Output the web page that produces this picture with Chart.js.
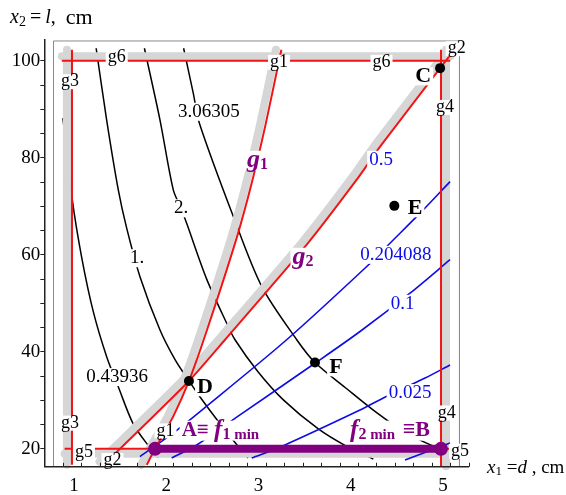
<!DOCTYPE html>
<html>
<head>
<meta charset="utf-8">
<title>f1 / f2 — d, l</title>
<script src="https://cdn.jsdelivr.net/npm/chart.js@4.4.1/dist/chart.umd.min.js"></script>
<style>
  body { margin: 0; background: #fff; }
  canvas { display: block; }
</style>
</head>
<body>
<canvas id="designChart" width="566" height="495"></canvas>
<script>
// 설계변수: x1 = d (cm), x2 = l (cm)

// f1 등고선 (검정)
const f1_043936_d = [0.902, 1.0, 1.105, 1.231, 1.376, 1.502, 1.665, 1.846, 1.932];
const f1_043936_l = [88.2, 71.8, 59.5, 48.3, 39.0, 32.8, 25.1, 20.2, 18.2];
const f1_1_d = [1.262, 1.376, 1.502, 1.593, 1.737, 1.954, 2.117, 2.268, 2.388, 2.572, 2.789, 2.908];
const f1_1_l = [102.6, 87.8, 73.4, 65.5, 55.5, 44.5, 38.4, 34.0, 30.7, 26.0, 20.8, 18.1];
const f1_2_d = [1.785, 1.954, 2.098, 2.182, 2.243, 2.460, 2.677, 2.767, 3.016, 3.291, 3.670, 3.978, 4.266];
const f1_2_l = [102.6, 87.8, 73.4, 69.6, 66.5, 55.0, 45.9, 42.5, 35.9, 30.1, 24.1, 20.5, 17.9];
const f1_306305_d = [2.21, 2.315, 2.380, 2.749, 3.056, 3.436, 3.634, 3.978, 4.306, 4.61, 4.935, 5.1];
const f1_306305_l = [102.6, 93.3, 87.2, 67.9, 53.5, 42.5, 37.8, 32.4, 27.4, 23.4, 20.4, 19.3];

// f2 등고선 (파랑)
const f2_0204088_d = [5.098, 4.783, 4.447, 4.195, 3.327, 2.388, 2.098, 1.737];
const f2_0204088_l = [75.1, 68.8, 62.4, 57.6, 42.5, 27.7, 23.3, 18.4];
const f2_01_d = [5.098, 4.664, 4.122, 3.645, 2.821, 2.352, 2.081];
const f2_01_l = [59.0, 52.1, 44.2, 37.8, 27.0, 20.8, 18.1];
const f2_0025_d = [5.098, 4.827, 4.375, 4.122, 3.273, 2.948];
const f2_0025_l = [37.3, 34.6, 30.5, 28.0, 20.5, 18.1];
const f2_low_d = [4.61, 5.098];
const f2_low_l = [17.7, 21.2];

// 제약조건 g1 ~ g6 (빨강)
const g1_d = [1.81, 1.90, 2.095, 2.268, 2.463, 2.785, 2.951, 3.10, 3.244, 3.27];
const g1_l = [16.7, 20, 26.6, 34.0, 44.5, 63.5, 75.0, 87.0, 100, 102.3];
const g2_d = [1.34, 1.52, 2.268, 2.659, 3.544, 4.086, 4.339, 4.99, 5.1];
const g2_l = [16.7, 20, 34.0, 42.5, 62.1, 75.5, 82.3, 98.5, 101.2];
const g3_d = [1, 1];
const g3_l = [16.7, 102.3];
const g4_d = [5, 5];
const g4_l = [16.4, 102.3];
const g5_d = [0.92, 5.1];
const g5_l = [20, 20];
const g6_d = [0.89, 5.1];
const g6_l = [100, 100];

// A = f1 min, B = f2 min
const optimum_d = [1.9, 5.0];
const optimum_l = [20, 20];

// 점 C, D, E, F
const pointNames = ['C', 'D', 'E', 'F'];
const point_d = [4.99, 2.268, 4.494, 3.634];
const point_l = [98.5, 34.0, 70.1, 37.8];

// 그림 틀
const frame_d = [0.8, 0.8, 5.2, 5.2];
const frame_l = [16.3, 104.1, 104.1, 16.3];

// 축 눈금
const xTickLabels = [1, 2, 3, 4, 5];
const yTickLabels = [20, 40, 60, 80, 100];

const SERIF = "'Liberation Serif', 'Times New Roman', serif";
const BLACK = '#000', BLUE = '#0c0ce6', RED = '#f01414', GRAY = '#d6d6d6', PURPLE = '#800080';

const pts = (d, l) => d.map((v, i) => ({ x: v, y: l[i] }));

function line(d, l, color, width, extra) {
    return Object.assign({
        data: pts(d, l),
        showLine: true,
        borderColor: color,
        borderWidth: width,
        pointRadius: 0,
        tension: 0.3,
        fill: false,
        clip: false,
        borderJoinStyle: 'round'
    }, extra || {});
}

// 회색 띠: 불가능 영역 쪽으로 조금 밀어서 그림
const band = (d, l, shift) => line(d, l, GRAY, 8, { shift: shift, borderCapStyle: 'round', tension: 0.2 });

// 아래에서 위 순서
const layers = [
    line(frame_d, frame_l, '#8a8a8a', 1, { tension: 0 }),

    line(f1_043936_d, f1_043936_l, BLACK, 1.5),
    line(f1_1_d, f1_1_l, BLACK, 1.5),
    line(f1_2_d, f1_2_l, BLACK, 1.5),
    line(f1_306305_d, f1_306305_l, BLACK, 1.5),

    band(g6_d, g6_l, [0, -4.5]),
    band(g3_d, g3_l, [-5, 0]),
    band(g4_d, g4_l, [5, 0]),
    band(g5_d, g5_l, [0, 5]),
    band(g1_d, g1_l, [-5.5, 0]),
    band(g2_d, g2_l, [-3.8, -3.2]),

    line(f2_0204088_d, f2_0204088_l, BLUE, 1.6),
    line(f2_01_d, f2_01_l, BLUE, 1.6),
    line(f2_0025_d, f2_0025_l, BLUE, 1.6),
    line(f2_low_d, f2_low_l, BLUE, 1.6),

    line(g6_d, g6_l, RED, 2),
    line(g3_d, g3_l, RED, 2),
    line(g4_d, g4_l, RED, 2),
    line(g5_d, g5_l, RED, 2),
    line(g1_d, g1_l, RED, 2, { tension: 0.2 }),
    line(g2_d, g2_l, RED, 2, { tension: 0.2 }),

    line(optimum_d, optimum_l, PURPLE, 8, {
        tension: 0, pointRadius: 7, pointBackgroundColor: PURPLE, pointBorderWidth: 0
    }),
    {
        data: pts(point_d, point_l),
        showLine: false,
        pointRadius: 5,
        pointBackgroundColor: BLACK,
        pointBorderWidth: 0,
        clip: false
    }
];

// 글자 조각
const txt = (t, color, size, style, dy) => ({
    t: t, color: color || BLACK, dy: dy || 0,
    font: (style || 'normal') + ' ' + (size || 19) + 'px ' + SERIF
});

const textLabels = [
    // f1 값
    { parts: [txt('3.06305')], d: 2.483, l: 89.5 },
    { parts: [txt('2.')], d: 2.182, l: 69.6 },
    { parts: [txt('1.')], d: 1.705, l: 59.3 },
    { parts: [txt('0.43936')], d: 1.49, l: 34.8 },
    // f2 값
    { parts: [txt('0.5', BLUE)], d: 4.35, l: 79.6 },
    { parts: [txt('0.204088', BLUE)], d: 4.51, l: 60.0 },
    { parts: [txt('0.1', BLUE)], d: 4.583, l: 49.9 },
    { parts: [txt('0.025', BLUE)], d: 4.664, l: 31.5 },
    // 제약조건 이름
    { parts: [txt('g6', BLACK, 18)], d: 1.485, l: 100.8, h: 15 },
    { parts: [txt('g6', BLACK, 18)], d: 4.355, l: 99.7, h: 15 },
    { parts: [txt('g1', BLACK, 18)], d: 3.244, l: 99.7, h: 15 },
    { parts: [txt('g2', BLACK, 18)], d: 5.17, l: 102.5, h: 15 },
    { parts: [txt('g3', BLACK, 18)], d: 0.978, l: 95.7, h: 15 },
    { parts: [txt('g3', BLACK, 18)], d: 0.978, l: 25.3, h: 15 },
    { parts: [txt('g4', BLACK, 18)], d: 5.043, l: 90.4, h: 15 },
    { parts: [txt('g4', BLACK, 18)], d: 5.062, l: 27.4, h: 15 },
    { parts: [txt('g5', BLACK, 18)], d: 1.13, l: 19.3, h: 15 },
    { parts: [txt('g2', BLACK, 18)], d: 1.439, l: 17.6, h: 15 },
    { parts: [txt('g1', BLACK, 18)], d: 2.014, l: 23.7, h: 15 },
    { parts: [txt('g5', BLACK, 18)], d: 5.206, l: 19.5, h: 15 },
    // 보라색 이름
    { parts: [txt('g', PURPLE, 26, 'italic bold'), txt('1', PURPLE, 16, 'bold', 4)], d: 3.011, l: 79.4, h: 20 },
    { parts: [txt('g', PURPLE, 26, 'italic bold'), txt('2', PURPLE, 16, 'bold', 4)], d: 3.504, l: 59.4, h: 20 },
    {
        parts: [txt('A≡ ', PURPLE, 21, 'bold'), txt('f', PURPLE, 25, 'italic bold'),
                txt('1', PURPLE, 16, 'bold', 4), txt(' min', PURPLE, 15, 'bold', 4)],
        d: 2.189, l: 23.75, align: 'left', h: 20
    },
    {
        parts: [txt('f', PURPLE, 25, 'italic bold'), txt('2', PURPLE, 16, 'bold', 4),
                txt(' min\u2002', PURPLE, 15, 'bold', 4), txt('≡B', PURPLE, 22, 'bold')],
        d: 4.014, l: 23.75, align: 'left', h: 20
    },
    // 점 이름
    { parts: [txt('C', BLACK, 22, 'bold')], d: 4.808, l: 96.8 },
    { parts: [txt('D', BLACK, 22, 'bold')], d: 2.442, l: 32.7 },
    { parts: [txt('E', BLACK, 22, 'bold')], d: 4.718, l: 69.6 },
    { parts: [txt('F', BLACK, 22, 'bold')], d: 3.860, l: 36.8 }
];

// 축 제목 (픽셀 위치)
const axisTitles = [
    { parts: [txt('x', BLACK, 20, 'italic'), txt('2', BLACK, 14, 'normal', 4), txt('\u2009=\u2009', BLACK, 20),
              txt('l', BLACK, 20, 'italic'), txt(',\u2002', BLACK, 20), txt('cm', BLACK, 22)], x: 10, y: 18 },
    { parts: [txt('x', BLACK, 19, 'italic'), txt('1', BLACK, 13, 'normal', 4), txt(' =', BLACK, 19),
              txt('d', BLACK, 19, 'italic'), txt(' , cm', BLACK, 19)], x: 487, y: 468 }
];

function drawRich(ctx, parts, x, y, align, bgHeight) {
    let w = 0;
    parts.forEach(p => {
        ctx.font = p.font;
        p.w = ctx.measureText(p.t).width;
        w += p.w;
    });
    let left = align === 'left' ? x : x - w / 2;
    if (bgHeight) {
        ctx.fillStyle = '#fff';
        ctx.fillRect(left - 2, y - bgHeight / 2, w + 4, bgHeight);
    }
    ctx.textAlign = 'left';
    ctx.textBaseline = 'middle';
    parts.forEach(p => {
        ctx.font = p.font;
        ctx.fillStyle = p.color;
        ctx.fillText(p.t, left, y + p.dy);
        left += p.w;
    });
}

// 회색 띠 이동
const shiftPlugin = {
    id: 'shift',
    beforeDatasetDraw(chart, args) {
        const s = chart.data.datasets[args.index].shift;
        if (!s) return;
        chart.ctx.save();
        chart.ctx.translate(s[0], s[1]);
    },
    afterDatasetDraw(chart, args) {
        if (chart.data.datasets[args.index].shift) chart.ctx.restore();
    }
};

// x축: 눈금은 안쪽으로, 숫자는 아래에
const xAxisMarks = {
    id: 'xAxisMarks',
    afterDatasetsDraw(chart) {
        const { ctx, chartArea } = chart;
        const x = chart.scales.x;
        ctx.save();
        ctx.strokeStyle = '#222';
        ctx.lineWidth = 1;
        ctx.beginPath();
        x.ticks.forEach(t => {
            const px = Math.round(x.getPixelForValue(t.value)) + 0.5;
            ctx.moveTo(px, chartArea.bottom);
            ctx.lineTo(px, chartArea.bottom - 4);
        });
        ctx.stroke();
        ctx.fillStyle = BLACK;
        ctx.font = '19px ' + SERIF;
        ctx.textAlign = 'center';
        ctx.textBaseline = 'middle';
        xTickLabels.forEach(v => {
            ctx.fillText(String(v), x.getPixelForValue(v) + 2, chartArea.bottom + 19);
        });
        ctx.restore();
    }
};

const labelPlugin = {
    id: 'labels',
    afterDatasetsDraw(chart) {
        const ctx = chart.ctx;
        const { x, y } = chart.scales;
        ctx.save();
        textLabels.forEach(lb => {
            drawRich(ctx, lb.parts, x.getPixelForValue(lb.d), y.getPixelForValue(lb.l),
                     lb.align || 'center', lb.h || 18);
        });
        axisTitles.forEach(t => drawRich(ctx, t.parts, t.x, t.y, 'left', 0));
        ctx.restore();
    }
};

Chart.defaults.font.family = SERIF;

new Chart(document.getElementById('designChart'), {
    type: 'scatter',
    data: { datasets: layers.slice().reverse() },
    options: {
        responsive: false,
        animation: false,
        events: [],
        layout: { padding: { top: 40, right: 97.3, left: 0, bottom: 0 } },
        plugins: { legend: { display: false }, tooltip: { enabled: false } },
        scales: {
            x: {
                type: 'linear',
                min: 0.7,
                max: 5.3,
                border: { display: true, color: '#222', width: 1.5, z: 1 },
                grid: { display: false, drawTicks: false },
                ticks: { display: false, stepSize: 0.2, autoSkip: false, includeBounds: false },
                afterFit: s => { s.height = 28.2; s.paddingLeft = 0; s.paddingRight = 0; }
            },
            y: {
                type: 'linear',
                min: 16.3,
                max: 104.3,
                border: { display: true, color: '#222', width: 1.5, z: 1 },
                grid: { display: true, drawOnChartArea: false, drawTicks: true, tickLength: 4, color: '#222' },
                ticks: {
                    stepSize: 5,
                    autoSkip: false,
                    includeBounds: false,
                    padding: 0,
                    color: BLACK,
                    font: { family: SERIF, size: 19 },
                    callback: v => (yTickLabels.includes(v) ? String(v) : '')
                },
                afterFit: s => { s.width = 44.3; s.paddingTop = 0; s.paddingBottom = 0; }
            }
        }
    },
    plugins: [shiftPlugin, xAxisMarks, labelPlugin]
});
</script>
</body>
</html>
